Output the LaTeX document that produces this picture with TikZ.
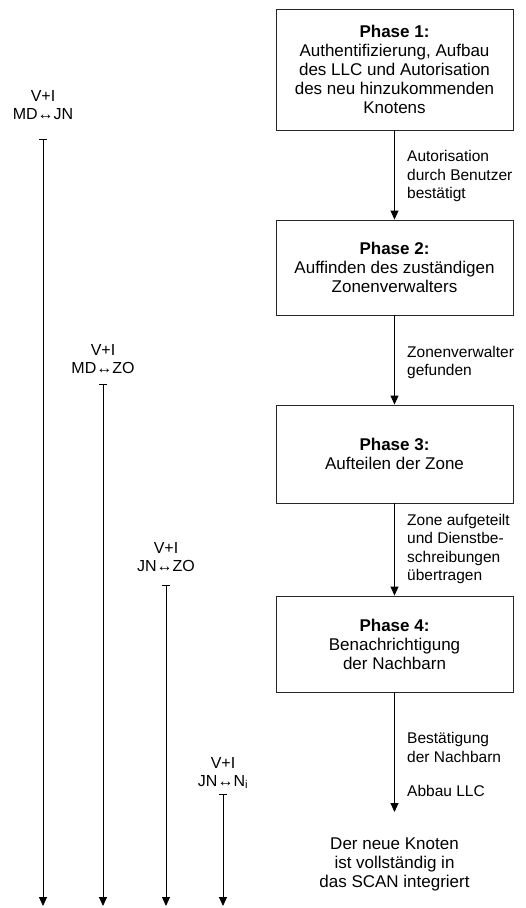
\documentclass[tikz,border=0pt]{standalone}
\usepackage{fontspec}
\setmainfont{Liberation Sans}
\usetikzlibrary{arrows.meta}
\begin{document}
\begin{tikzpicture}[x=1pt,y=-1pt,
  phase/.style={draw=black!85,line width=0.9pt,minimum width=237pt,align=center,
    inner sep=0pt,font=\fontsize{17}{19}\selectfont},
  flow/.style={draw,line width=0.9pt,-{Triangle[width=8pt,length=9pt]}},
  note/.style={align=left,anchor=west,inner sep=0pt,font=\fontsize{15.5}{18.6}\selectfont},
  party/.style={align=center,inner sep=0pt,font=\fontsize{16}{18}\selectfont},
  tick/.style={line width=0.9pt},
  result/.style={align=center,inner sep=0pt,font=\fontsize{17}{18.6}\selectfont}]
\useasboundingbox (0,0) rectangle (525,908);

% phase boxes
\node[phase,minimum height=121pt] (p1) at (394.5,69.5)
  {\textbf{Phase 1:}\\Authentifizierung, Aufbau\\des LLC und Autorisation\\des neu hinzukommenden\\Knotens};
\node[phase,minimum height=95pt] (p2) at (394.5,267.5)
  {\textbf{Phase 2:}\\Auffinden des zuständigen\\Zonenverwalters};
\node[phase,minimum height=98pt] (p3) at (394.5,454)
  {\textbf{Phase 3:}\\Aufteilen der Zone};
\node[phase,minimum height=96pt] (p4) at (394.5,644)
  {\textbf{Phase 4:}\\Benachrichtigung\\der Nachbarn};

% transitions between the phases
\draw[flow] (p1) -- (p2);
\draw[flow] (p2) -- (p3);
\draw[flow] (p3) -- (p4);
\coordinate (done) at (394.5,812);
\draw[flow] (p4.south) -- (done);

\node[note] (n1) at (407,176) {Autorisation\\durch Benutzer\\bestätigt};
\node[note] (n2) at (407,362.5) {Zonenverwalter\\gefunden};
\node[note] (n3) at (407,549) {Zone aufgeteilt\\und Dienstbe-\\schreibungen\\übertragen};
\node[note] (n4) at (407,747.5) {Bestätigung\\der Nachbarn};
\node[note] (n5) at (407,791) {Abbau LLC};

\node[result] (fin) at (394.5,864.5) {Der neue Knoten\\ist vollständig in\\das SCAN integriert};

% key exchanges along the time axis
\foreach \k/\x/\t/\ly/\lab in {1/43/139/105/MD↔JN, 2/103/384/359/MD↔ZO,
    3/166/585/557/JN↔ZO, 4/223/794/773/JN↔N\textsubscript{i}} {
  \coordinate (s\k) at (\x,\t);
  \coordinate (e\k) at (\x,906);
  \node[party] (v\k) at (\x,\ly) {V+I\\\lab};
  \draw[tick] ([xshift=-4pt]s\k) -- ([xshift=4pt]s\k);
  \draw[flow] (s\k) -- (e\k);
}
\end{tikzpicture}
\end{document}
